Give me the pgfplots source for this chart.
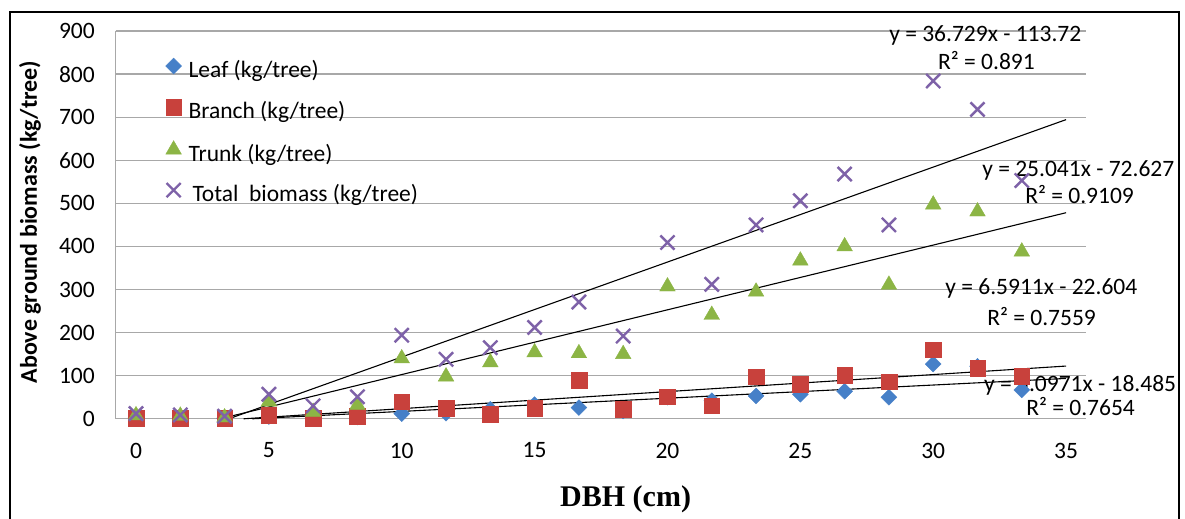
\documentclass[border=0pt]{standalone}
\usepackage{fontspec}
\setmainfont{Carlito}
\newfontfamily\dbhfont{Liberation Serif}
\usepackage{pgfplots}
\pgfplotsset{compat=1.18}
\definecolor{leafc}{HTML}{4680C8}
\definecolor{branchc}{HTML}{C8413C}
\definecolor{trunkc}{HTML}{8CB545}
\definecolor{totalc}{HTML}{7E62A8}
\definecolor{gridc}{HTML}{A8A8A8}
\pgfplotstableread{
x leaf branch trunk total
0 2 2 8 12
1.6667 2 2 7 9
3.3333 1 2 3 6
5 5 9 40 57
6.6667 2 2 16 30
8.3333 4 6 32 51
10 12 40 140 194
11.6667 13 24 98 138
13.3333 22 10 131 165
15 33 24 154 212
16.6667 26 90 152 271
18.3333 18 22 150 192
20 50 51 307 409
21.6667 42 30 241 312
23.3333 53 98 295 450
25 57 80 367 506
26.6667 64 101 400 568
28.3333 50 86 311 450
30 127 160 497 784
31.6667 122 117 481 718
33.3333 67 99 388 553
}\datatable
\newcommand{\tfont}{\fontsize{23.5bp}{28bp}\selectfont}
\begin{document}
\begin{tikzpicture}[x=1bp,y=1bp]
\useasboundingbox (0,0) rectangle (1185,519);
\fill[white] (0,0) rectangle (1185,519);
\draw[line width=1.8bp, black] (9.6,-10) -- (9.6,507.3) -- (1179,507.3) -- (1179,-10);
\begin{axis}[
  at={(115.7bp,100.2bp)}, anchor=south west,
  scale only axis, width=970.3bp, height=387.8bp,
  xmin=-0.764, xmax=35.75, ymin=0, ymax=900,
  xtick={0,5,...,35}, ytick={0,100,...,900},
  axis x line*=bottom, axis y line*=left,
  axis line style={draw=gridc, line width=1.3bp, -},
  major tick length=0pt,
  ymajorgrids, grid style={gridc, line width=1.3bp},
  tick label style={font=\tfont, inner sep=0pt},
  /pgf/number format/assume math mode=true,
  xticklabel style={anchor=center, yshift=-31.7bp},
  yticklabel style={anchor=east, xshift=-20.7bp},
  clip=false,
  ylabel={Above ground biomass (kg/tree)},
  ylabel style={at={(axis description cs:-0.0883,0.5075)}, anchor=center, font=\bfseries\fontsize{24bp}{28bp}\selectfont, inner sep=0pt},
  xlabel={\dbhfont\bfseries DBH (cm)},
  xlabel style={at={(axis description cs:0.4579,-0.2267)}, anchor=base west, font=\fontsize{30bp}{34bp}\selectfont, inner sep=0pt},
  legend style={at={(rel axis cs:0.05153,0.9300)}, anchor=north west, draw=none, fill=none,
    inner sep=0pt, outer sep=0pt, row sep=15.9bp, column sep=7bp, font=\tfont,
    nodes={inner sep=0pt, text height=17bp, text depth=6bp}},
  legend cell align=left,
  legend image code/.code={\draw[mark repeat=2, mark phase=2, #1] plot coordinates {(0bp,6bp) (7bp,6bp) (14bp,6bp)};},
]
\addplot[only marks, mark=square*, mark size=5.6bp, mark options={rotate=45, fill=leafc, draw=leafc}] table[x=x,y=leaf] {\datatable};
\addlegendentry{Leaf (kg/tree)}
\addplot[only marks, mark=square*, mark size=7.8bp, mark options={fill=branchc, draw=branchc}] table[x=x,y=branch] {\datatable};
\addlegendentry{Branch (kg/tree)}
\addplot[only marks, mark=triangle*, mark size=9bp, mark options={fill=trunkc, draw=trunkc}] table[x=x,y=trunk] {\datatable};
\addlegendentry{Trunk (kg/tree)}
\addplot[only marks, mark=x, mark size=10bp, mark options={draw=totalc, line width=2.4bp}] table[x=x,y=total] {\datatable};
\addlegendentry{\hspace{4bp}Total\ \ biomass (kg/tree)}
% linear trend lines (clipped at y = 0)
\addplot[forget plot, black, line width=1.1bp] coordinates {(3.4937,0) (35,694.32)};
\addplot[forget plot, black, line width=1.1bp] coordinates {(3.1672,0) (35,478.27)};
\addplot[forget plot, black, line width=1.1bp] coordinates {(4.0491,0) (35,122.40)};
\addplot[forget plot, black, line width=1.1bp] coordinates {(4.3776,0) (35,93.65)};
\node[font=\tfont, anchor=base west, inner sep=0pt] at (axis cs:28.34,875.2) {y = 36.729x - 113.72};
\node[font=\tfont, anchor=base west, inner sep=0pt] at (axis cs:30.18,809.5) {R² = 0.891};
\node[font=\tfont, anchor=base west, inner sep=0pt] at (axis cs:31.84,561.2) {y = 25.041x - 72.627};
\node[font=\tfont, anchor=base west, inner sep=0pt] at (axis cs:33.46,500.8) {R² = 0.9109};
\node[font=\tfont, anchor=base west, inner sep=0pt] at (axis cs:30.45,287.3) {y = 6.5911x - 22.604};
\node[font=\tfont, anchor=base west, inner sep=0pt] at (axis cs:32.03,215.4) {R² = 0.7559};
\node[font=\tfont, anchor=base west, inner sep=0pt] at (axis cs:31.91,64.5) {y = 5.0971x - 18.485};
\node[font=\tfont, anchor=base west, inner sep=0pt] at (axis cs:33.50,8.8) {R² = 0.7654};
\end{axis}
\end{tikzpicture}
\end{document}
